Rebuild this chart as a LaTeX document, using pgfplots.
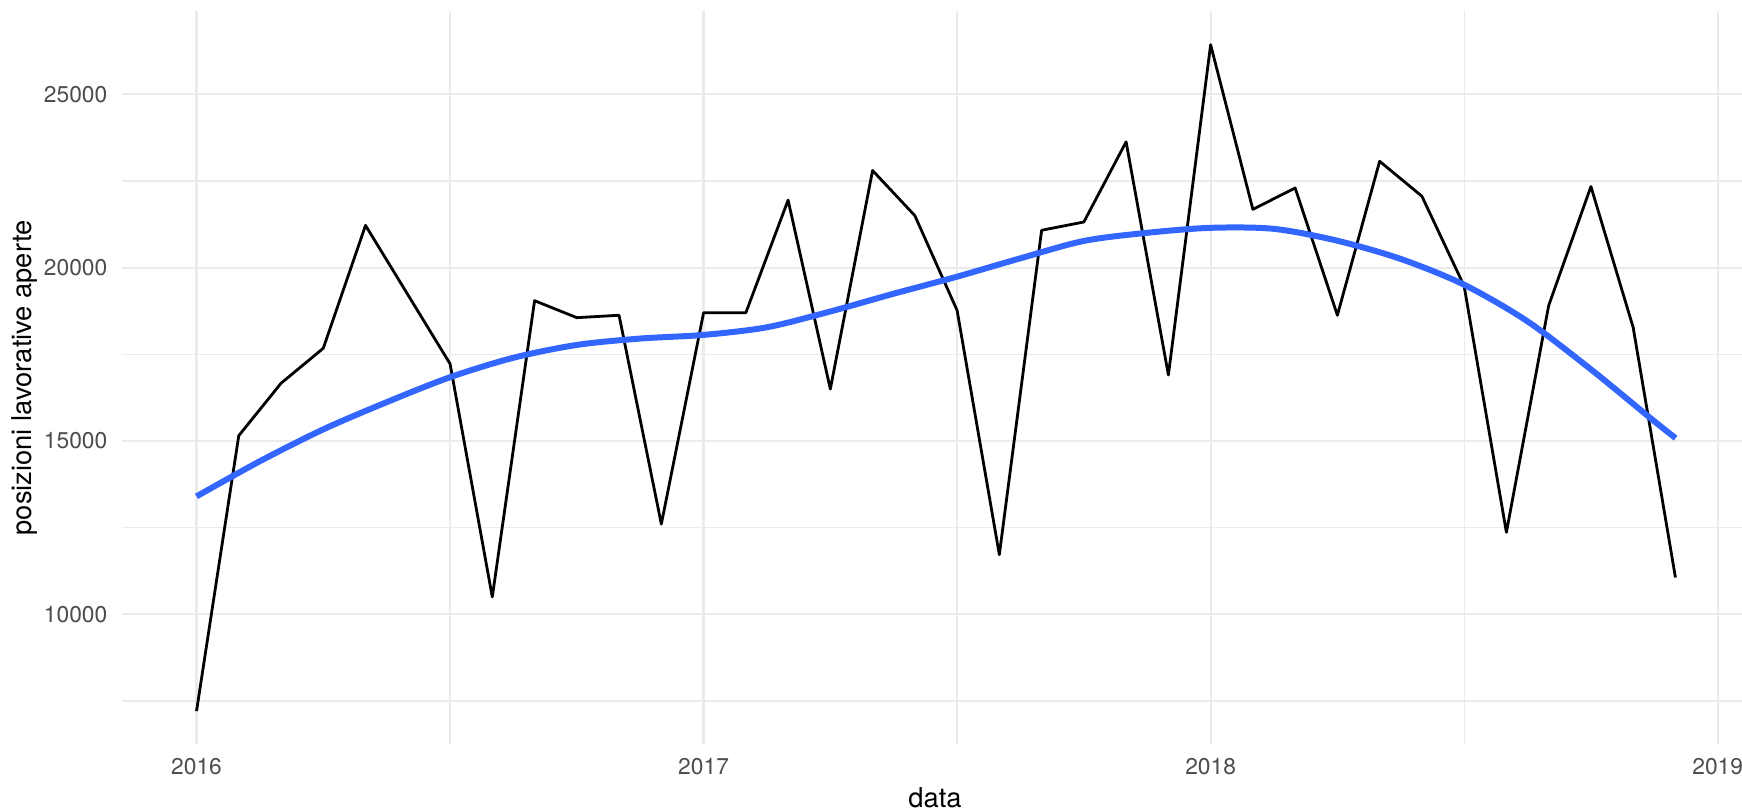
\documentclass[border=0pt]{standalone}
\usepackage{fontspec}
\setmainfont{TeX Gyre Heros}
\usepackage{pgfplots}
\usepackage{pgfplotstable}
\pgfplotsset{compat=1.18}
\newlength\px \setlength\px{0.3pt}
\definecolor{gridc}{HTML}{EBEBEB}
\definecolor{tickc}{HTML}{4D4D4D}
\definecolor{smoothc}{HTML}{3366FF}

\pgfplotstableread{
x y
2016.0000 7212
2016.0833 15154
2016.1667 16666
2016.2500 17675
2016.3333 21218
2016.4167 19222
2016.5000 17227
2016.5833 10504
2016.6667 19047
2016.7500 18557
2016.8333 18627
2016.9167 12605
2017.0000 18697
2017.0833 18697
2017.1667 21947
2017.2500 16498
2017.3333 22801
2017.4167 21499
2017.5000 18767
2017.5833 11722
2017.6667 21078
2017.7500 21316
2017.8333 23627
2017.9167 16904
2018.0000 26429
2018.0833 21681
2018.1667 22297
2018.2500 18627
2018.3333 23067
2018.4167 22059
2018.5000 19468
2018.5833 12367
2018.6667 18907
2018.7500 22339
2018.8333 18277
2018.9167 11064
}\monthly

\pgfplotstableread{
x y
2016.000 13403
2016.125 14418
2016.250 15336
2016.375 16120
2016.500 16840
2016.625 17401
2016.750 17771
2016.875 17955
2017.000 18060
2017.125 18280
2017.250 18736
2017.375 19249
2017.500 19740
2017.625 20270
2017.750 20770
2017.875 21005
2018.000 21148
2018.125 21118
2018.250 20776
2018.375 20250
2018.500 19507
2018.625 18450
2018.750 17066
2018.875 15570
2018.917 15084
}\trend

\begin{document}
\begin{tikzpicture}
\begin{axis}[name=ax, scale only axis,
  width=1619.5\px, height=733\px,
  xmin=2015.854, xmax=2019.048, ymin=6251, ymax=27390,
  axis line style={draw=none},
  tick style={draw=none},
  xtick={2016,2017,2018,2019}, xticklabels={2016,2017,2018,2019},
  minor xtick={2016.5,2017.5,2018.5},
  ytick={10000,15000,20000,25000}, yticklabels={10000,15000,20000,25000},
  minor ytick={7500,12500,17500,22500},
  grid=both,
  major grid style={draw=gridc, line width=2.2\px},
  minor grid style={draw=gridc, line width=1.3\px},
  xticklabel style={font=\fontsize{6.84}{8}\selectfont, text=tickc, inner sep=0pt, anchor=north, yshift=-13.5\px},
  yticklabel style={font=\fontsize{6.84}{8}\selectfont, text=tickc, inner sep=0pt, anchor=east, xshift=-14.5\px},
  xlabel={data}, ylabel={posizioni lavorative aperte},
  xlabel style={font=\fontsize{8.2}{10}\selectfont, inner sep=0pt, at={(axis description cs:0.5017,-0.0866)}, anchor=base},
  ylabel style={font=\fontsize{8.2}{10}\selectfont, inner sep=0pt, at={(axis description cs:-0.0602,0.5)}, anchor=center},
]
\addplot[black, line width=2.8\px, line join=round, mark=none] table[x=x, y=y] {\monthly};
\addplot[smoothc, line width=6\px, smooth, mark=none] table[x=x, y=y] {\trend};
\end{axis}
\pgfresetboundingbox
\path[use as bounding box] ([xshift=-122.5\px, yshift=-65.5\px]ax.south west) rectangle ([yshift=11.4\px]ax.north east);
\end{tikzpicture}
\end{document}
